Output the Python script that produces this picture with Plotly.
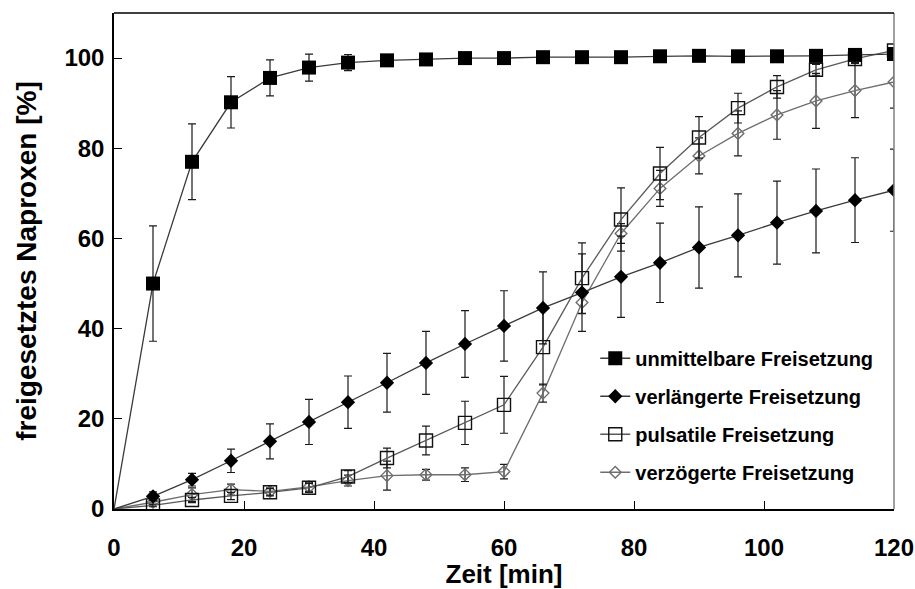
import plotly.graph_objects as go

# Sampling times [min] and released naproxen [%] (mean ± SD)
zeit = [6, 12, 18, 24, 30, 36, 42, 48, 54, 60, 66, 72, 78, 84, 90, 96, 102, 108, 114, 120]

unmittelbar = [50.0, 77.0, 90.2, 95.6, 97.9, 99.0, 99.5, 99.7, 100.0, 100.0, 100.2, 100.2,
               100.2, 100.4, 100.5, 100.4, 100.4, 100.5, 100.7, 100.9]
unmittelbar_sd = [12.8, 8.4, 5.7, 4.0, 3.0, 1.8, 0.7, 0.6, 0.4, 0.4, 0.4, 0.3,
                  0.3, 0.3, 0.3, 0.3, 0.3, 0.3, 0.3, 0.3]

verlaengert = [2.8, 6.5, 10.7, 15.0, 19.3, 23.7, 28.0, 32.4, 36.6, 40.6, 44.6, 48.0,
               51.5, 54.6, 58.0, 60.7, 63.5, 66.1, 68.5, 70.7]
verlaengert_sd = [1.0, 1.4, 2.6, 3.9, 5.0, 5.8, 6.5, 7.0, 7.4, 7.8, 8.0, 8.6,
                  9.0, 8.8, 9.0, 9.2, 9.2, 9.3, 9.4, 9.1]

pulsatil = [0.8, 2.0, 2.9, 3.7, 4.7, 7.2, 11.3, 15.2, 19.1, 23.1, 35.9, 51.2,
            64.2, 74.4, 82.4, 88.9, 93.6, 97.4, 99.8, 101.7]
pulsatil_sd = [0.3, 0.6, 0.8, 0.8, 1.0, 1.3, 2.2, 3.2, 4.8, 6.3, 8.4, 7.8,
               7.0, 5.8, 4.6, 3.3, 2.5, 1.2, 0.8, 0.5]

verzoegert = [1.5, 3.2, 4.3, 3.9, 4.9, 6.3, 7.4, 7.6, 7.6, 8.3, 25.7, 45.8,
              61.1, 71.1, 78.3, 83.3, 87.4, 90.5, 92.8, 94.7]
verzoegert_sd = [0.5, 1.5, 1.2, 0.8, 1.0, 1.2, 3.2, 1.2, 1.5, 1.6, 2.0, 2.5,
                 2.2, 4.0, 4.0, 5.0, 5.4, 6.1, 6.0, 5.8]

x_ticks = [0, 20, 40, 60, 80, 100, 120]
y_ticks = [0, 20, 40, 60, 80, 100]

FONT = "Liberation Sans, Arial, sans-serif"

# name, values, sd, marker symbol, marker size, marker colour, line colour, legend rank
serien = [
    ("verzögerte Freisetzung", verzoegert, verzoegert_sd, "diamond-open", 9, "#6e6e6e", "#6e6e6e", 4),
    ("pulsatile Freisetzung", pulsatil, pulsatil_sd, "square-open", 13, "#111111", "#5a5a5a", 3),
    ("verlängerte Freisetzung", verlaengert, verlaengert_sd, "diamond", 11, "#000000", "#3a3a3a", 2),
    ("unmittelbare Freisetzung", unmittelbar, unmittelbar_sd, "square", 14, "#000000", "#3a3a3a", 1),
]

fig = go.Figure()

for i, (name, werte, sd, symbol, size, mcol, lcol, rank) in enumerate(serien):
    # segment from the origin to the first sample
    fig.add_trace(go.Scatter(
        x=[0, zeit[0]], y=[0, werte[0]], mode="lines",
        line=dict(color=lcol, width=1.3), showlegend=False, hoverinfo="skip",
    ))
    fig.add_trace(go.Scatter(
        x=zeit, y=werte, name=name, mode="lines+markers",
        legendgroup=f"g{i}", legendrank=rank,
        line=dict(color=lcol, width=1.3),
        marker=dict(symbol=symbol, size=size, color=mcol,
                    line=dict(color=mcol, width=1.4 if "open" in symbol else 0)),
        error_y=dict(type="data", array=sd, visible=True,
                     color="#1a1a1a", thickness=1.2, width=4),
    ))

# frame: black top edge, grey right edge
fig.add_shape(type="line", xref="paper", yref="paper", x0=1, x1=1, y0=0, y1=1,
              line=dict(color="#808080", width=1.5))
fig.add_shape(type="line", xref="paper", yref="paper", x0=0, x1=1, y0=1, y1=1,
              line=dict(color="black", width=1.5))

fig.update_layout(
    width=915, height=589,
    margin=dict(l=114, r=21, t=13, b=80),
    paper_bgcolor="white", plot_bgcolor="white",
    font=dict(family=FONT, color="black"),
    showlegend=True,
    legend=dict(
        x=0.617, y=0.189, xanchor="left", yanchor="middle",
        bgcolor="rgba(0,0,0,0)", traceorder="grouped", tracegroupgap=9,
        font=dict(family=FONT, size=20, color="black", weight="bold"),
        itemwidth=30,
    ),
    xaxis=dict(
        range=[0, 120], tickvals=x_ticks, ticktext=[str(v) for v in x_ticks],
        ticks="inside", ticklen=8, tickwidth=1, tickcolor="black",
        showline=True, linecolor="black", linewidth=1.5, mirror=False,
        showgrid=False, zeroline=False, automargin=False,
        tickfont=dict(family=FONT, size=24, color="black", weight="bold"),
        ticklabelstandoff=16,
        title=dict(text="Zeit [min]", standoff=5,
                   font=dict(family=FONT, size=26, color="black", weight="bold")),
    ),
    yaxis=dict(
        range=[0, 110], tickvals=y_ticks, ticktext=[str(v) for v in y_ticks],
        ticks="inside", ticklen=8, tickwidth=1, tickcolor="black",
        showline=True, linecolor="black", linewidth=1.5, mirror=False,
        showgrid=False, zeroline=False, automargin=False,
        tickfont=dict(family=FONT, size=24, color="black", weight="bold"),
        ticklabelstandoff=3,
        title=dict(text="freigesetztes Naproxen [%]", standoff=20,
                   font=dict(family=FONT, size=28, color="black", weight="bold")),
    ),
)

fig.write_html("out.html")
